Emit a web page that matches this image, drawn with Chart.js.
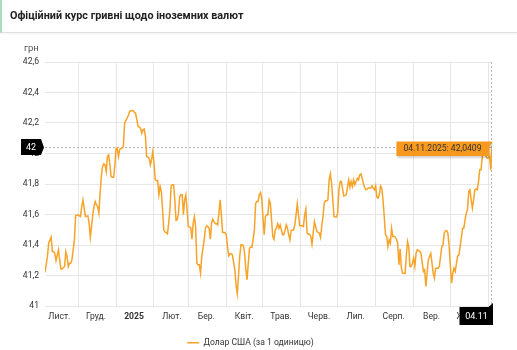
<!DOCTYPE html>
<html lang="uk">
<head>
<meta charset="utf-8">
<title>Офіційний курс гривні щодо іноземних валют</title>
<script src="https://cdn.jsdelivr.net/npm/chart.js@4.4.1/dist/chart.umd.min.js"></script>
<style>
  html, body { margin: 0; padding: 0; background: #fff; overflow: hidden; }
  body { width: 517px; height: 350px; position: relative; font-family: Roboto, "Noto Sans", sans-serif; }
  .header {
    position: absolute; left: 0; top: 0; width: 517px; height: 33px; box-sizing: border-box;
    border-left: 2px solid #a9dcb9; border-bottom: 1px solid #e0e0e0;
    box-shadow: 0 1px 2px rgba(0, 0, 0, 0.06); z-index: 2; background: #fff;
  }
  .header h1 { margin: 0; padding-left: 8px; font-size: 10.8px; font-weight: bold; color: #222; line-height: 32px; }
  .unit { position: absolute; left: 24px; top: 42px; font-size: 9.5px; color: #555; z-index: 2; }
  #chart { position: absolute; left: 0; top: 0; }
</style>
</head>
<body>
<div class="header"><h1>Офіційний курс гривні щодо іноземних валют</h1></div>
<div class="unit">грн</div>
<canvas id="chart" width="517" height="357"></canvas>
<script>
    // series starts on 04.11.2024, one value per day (null = no reading)
    const startDate = Date.UTC(2024, 10, 4);
    const DAY_MS = 86400000;

    const seriesLabel = 'Долар США (за 1 одиницю)';

    const monthStarts = ['2024-11-01', '2024-12-01', '2025-01-01', '2025-02-01', '2025-03-01', '2025-04-01',
        '2025-05-01', '2025-06-01', '2025-07-01', '2025-08-01', '2025-09-01', '2025-10-01', '2025-11-01'];
    const monthLabels = ['Лист.', 'Груд.', '2025', 'Лют.', 'Бер.', 'Квіт.', 'Трав.', 'Черв.', 'Лип.', 'Серп.',
        'Вер.', 'Жовт.', ''];

    const yMin = 41;
    const yMax = 42.6;
    const yStep = 0.2;

    const rates = [
        41.220, null, 41.325, 41.412, null, 41.451, 41.357, 41.357, 41.346, 41.298,
        null, 41.368, 41.303, 41.242, 41.242, null, 41.259, 41.357, 41.325, 41.259,
        41.281, 41.281, 41.303, null, 41.434, 41.591, null, 41.598, 41.591, 41.587,
        41.652, 41.696, 41.642, 41.587, null, 41.591, 41.543, 41.451, 41.521, 41.598,
        41.652, 41.685, 41.663, 41.652, 41.609, 41.740, 41.849, 41.915, 41.932, 41.926,
        41.882, 41.980, 41.991, 41.926, 41.849, 41.845, 41.845, 41.915, 42.035, 42.035,
        41.980, 42.028, null, 42.035, 42.046, 42.199, null, 42.232, 42.247, 42.275,
        42.282, null, 42.280, 42.269, 42.264, 42.221, 42.177, 42.173, 42.166, 42.133,
        42.155, 42.160, 42.112, 41.980, 41.976, 41.970, 41.926, 41.959, 42.013, 41.937,
        41.827, 41.821, 41.823, 41.729, 41.784, 41.751, 41.631, 41.499, 41.484, 41.482,
        41.473, 41.543, 41.631, 41.788, 41.795, 41.795, 41.696, 41.561, 41.565, 41.609,
        41.718, 41.729, 41.729, 41.598, 41.696, 41.729, 41.631, 41.521, 41.517, 41.515,
        41.438, 41.543, 41.585, 41.521, 41.281, 41.270, 41.270, 41.215, 41.325, null,
        41.434, 41.510, 41.526, 41.521, 41.510, 41.438, 41.543, 41.569, 41.554, 41.539,
        41.539, 41.532, 41.609, 41.696, 41.598, 41.482, 41.482, 41.482, 41.467, 41.390,
        41.329, 41.342, 41.342, 41.336, null, 41.237, 41.139, 41.080, 41.193, 41.325,
        41.401, 41.401, 41.395, 41.346, 41.237, 41.172, 41.281, 41.379, 41.386, 41.384,
        null, 41.499, 41.674, 41.685, 41.685, 41.729, 41.744, 41.707, 41.576, 41.467,
        41.587, 41.598, 41.598, 41.696, 41.674, 41.565, 41.456, 41.438, 41.499, 41.510,
        41.539, 41.510, 41.532, 41.499, 41.467, 41.467, 41.499, 41.532, 41.510, 41.467,
        41.434, 41.495, 41.499, 41.499, 41.532, 41.598, 41.670, 41.598, 41.526, 41.526,
        41.526, 41.521, 41.598, 41.635, 41.478, 41.471, 41.471, 41.456, 41.405, 41.478,
        41.554, 41.521, 41.489, 41.482, 41.478, 41.449, 41.526, 41.587, 41.674, 41.690,
        41.690, 41.696, 41.827, 41.867, 41.806, 41.696, 41.587, 41.583, 41.583, 41.609,
        41.762, 41.816, 41.816, 41.766, 41.722, null, 41.729, 41.779, 41.827, 41.779,
        41.816, 41.784, 41.827, 41.795, 41.816, 41.838, 41.827, 41.860, 41.867, 41.838,
        41.801, 41.779, 41.762, 41.766, 41.773, null, 41.773, 41.788, 41.773, 41.762,
        41.788, 41.712, 41.707, 41.729, 41.788, 41.773, 41.696, 41.587, 41.467, 41.456,
        41.390, 41.434, 41.412, 41.510, 41.456, 41.456, 41.451, 41.438, 41.412, 41.270,
        41.373, 41.248, 41.215, 41.215, 41.215, 41.325, 41.423, 41.390, 41.259, 41.259,
        41.281, 41.314, 41.259, 41.346, 41.368, 41.364, 41.357, 41.346, 41.285, 41.226,
        41.237, 41.128, 41.215, 41.303, 41.325, 41.346, 41.281, 41.215, 41.183, 41.248,
        41.248, 41.248, 41.259, 41.325, 41.390, 41.401, 41.478, 41.493, 41.495, 41.478,
        41.390, 41.259, 41.150, 41.215, 41.248, 41.226, 41.281, 41.329, 41.336, 41.390,
        null, 41.510, 41.510, 41.565, 41.609, 41.631, 41.751, 41.762, 41.696, 41.642,
        41.696, 41.762, 41.766, 41.762, 41.816, 41.893, 41.893, 41.970, 42.046, 42.035,
        41.980, 41.970, 41.970, 41.980, 41.893, 42.0409
    ];

    const LINE_COLOR = '#f6a328';
    const TIP_COLOR = '#f7991e';
    const GRID_COLOR = '#e6e6e6';
    const FONT = 'Roboto, "Noto Sans", sans-serif';
    const FONT_SIZE = 8.6;

    Chart.defaults.font.family = FONT;
    Chart.defaults.font.size = FONT_SIZE;
    Chart.defaults.color = '#333';

    let dayOf = function (iso) {
        return Math.round((Date.parse(iso) - startDate) / DAY_MS);
    };

    let pad2 = function (n) {
        return String(n).padStart(2, '0');
    };

    let formatDay = function (day, withYear) {
        let d = new Date(startDate + day * DAY_MS);
        let s = pad2(d.getUTCDate()) + '.' + pad2(d.getUTCMonth() + 1);
        return withYear ? s + '.' + d.getUTCFullYear() : s;
    };

    let formatNumber = function (v) {
        return String(v).replace('.', ',');
    };

    const monthDays = monthStarts.map(dayOf);
    const lastDay = rates.length - 1;
    const lastRate = rates[lastDay];

    /**
     * crosshair, value tooltip and axis flags for the latest day
     */
    const latestMarks = {
        id: 'latestMarks',
        beforeDatasetsDraw(chart) {
            const {ctx, chartArea: area, scales: {x, y}} = chart;
            const px = Math.round(x.getPixelForValue(lastDay)) - 0.5;
            const py = Math.round(y.getPixelForValue(lastRate)) + 0.5;
            ctx.save();
            ctx.strokeStyle = '#b5b5b5';
            ctx.lineWidth = 1;
            ctx.setLineDash([2, 2]);
            ctx.beginPath();
            ctx.moveTo(area.left, py);
            ctx.lineTo(area.right, py);
            ctx.moveTo(px, area.top);
            ctx.lineTo(px, area.bottom);
            ctx.stroke();
            ctx.restore();
        },
        afterDraw(chart) {
            const {ctx, chartArea: area, scales: {x, y}} = chart;
            const px = Math.round(x.getPixelForValue(lastDay)) - 0.5;
            const py = Math.round(y.getPixelForValue(lastRate)) + 0.5;
            ctx.save();
            ctx.font = FONT_SIZE + 'px ' + FONT;
            ctx.textBaseline = 'middle';

            // orange tooltip to the left of the point
            const text = formatDay(lastDay, true) + ': ' + formatNumber(lastRate);
            const w = ctx.measureText(text).width + 15;
            const right = px - 2;
            const left = right - w;
            const top = py - 6;
            const h = 14.5;
            ctx.save();
            ctx.shadowColor = 'rgba(0, 0, 0, 0.18)';
            ctx.shadowOffsetX = 1;
            ctx.shadowOffsetY = 2;
            ctx.shadowBlur = 2;
            ctx.fillStyle = TIP_COLOR;
            ctx.beginPath();
            ctx.moveTo(left, top);
            ctx.lineTo(px + 1, top);
            ctx.lineTo(right, top + 5);
            ctx.lineTo(right, top + h);
            ctx.lineTo(left, top + h);
            ctx.closePath();
            ctx.fill();
            ctx.restore();
            ctx.fillStyle = '#333';
            ctx.textAlign = 'left';
            ctx.fillText(text, left + 7, top + h / 2 + 0.5);

            // y axis flag
            const tip = area.left - 1;
            ctx.fillStyle = '#000';
            ctx.beginPath();
            ctx.moveTo(tip - 23, py - 8.5);
            ctx.lineTo(tip - 3, py - 8.5);
            ctx.lineTo(tip, py);
            ctx.lineTo(tip - 3, py + 7.5);
            ctx.lineTo(tip - 23, py + 7.5);
            ctx.closePath();
            ctx.fill();
            ctx.fillStyle = '#fff';
            ctx.textAlign = 'center';
            ctx.font = '9px ' + FONT;
            ctx.fillText(formatNumber(Math.round(lastRate * 10) / 10), tip - 13, py);

            // x axis flag
            const fTop = area.bottom + 1;
            ctx.fillStyle = '#000';
            ctx.beginPath();
            ctx.moveTo(px - 32, fTop);
            ctx.lineTo(px - 3, fTop);
            ctx.lineTo(px + 1.5, fTop - 4);
            ctx.lineTo(px + 1.5, fTop + 18);
            ctx.lineTo(px - 32, fTop + 18);
            ctx.closePath();
            ctx.fill();
            ctx.fillStyle = '#fff';
            ctx.fillText(formatDay(lastDay, false), px - 15, fTop + 9.5);
            ctx.restore();
        }
    };

    let ctx = document.getElementById('chart').getContext('2d');
    let rateChart = new Chart(ctx, {
        type: 'line',
        data: {
            datasets: [{
                label: seriesLabel,
                data: rates.map((v, i) => ({x: i, y: v})),
                borderColor: LINE_COLOR,
                backgroundColor: LINE_COLOR,
                borderWidth: 1.5,
                pointRadius: 0,
                tension: 0,
                spanGaps: true
            }]
        },
        options: {
            responsive: false,
            animation: false,
            devicePixelRatio: 1,
            layout: {
                padding: {top: 62, right: 25, left: 9, bottom: 0}
            },
            plugins: {
                tooltip: {enabled: false},
                legend: {
                    position: 'bottom',
                    labels: {
                        usePointStyle: true,
                        pointStyle: 'line',
                        pointStyleWidth: 12,
                        padding: 8,
                        color: '#333',
                        font: {size: FONT_SIZE}
                    }
                }
            },
            scales: {
                x: {
                    type: 'linear',
                    min: 0,
                    max: lastDay,
                    border: {display: false},
                    grid: {
                        drawTicks: false,
                        color: c => (c.tick && c.tick.value < 0) ? 'rgba(0,0,0,0)' : GRID_COLOR
                    },
                    afterBuildTicks: function (scale) {
                        scale.ticks = monthDays.map(d => ({value: d}));
                    },
                    afterFit: function (scale) {
                        scale.height = 24.4;
                    },
                    ticks: {
                        autoSkip: false,
                        maxRotation: 0,
                        labelOffset: 18,
                        padding: 6,
                        color: '#333',
                        font: c => ({size: FONT_SIZE, weight: monthLabels[c.index] === '2025' ? 'bold' : 'normal'}),
                        callback: (v, i) => monthLabels[i]
                    }
                },
                y: {
                    min: yMin,
                    max: yMax,
                    border: {display: false},
                    grid: {drawTicks: false, color: GRID_COLOR},
                    afterFit: function (scale) {
                        scale.width = 36;
                    },
                    ticks: {
                        stepSize: yStep,
                        padding: 6,
                        color: '#333',
                        callback: v => formatNumber(Math.round(v * 10) / 10)
                    }
                }
            }
        },
        plugins: [latestMarks]
    });
</script>
</body>
</html>
